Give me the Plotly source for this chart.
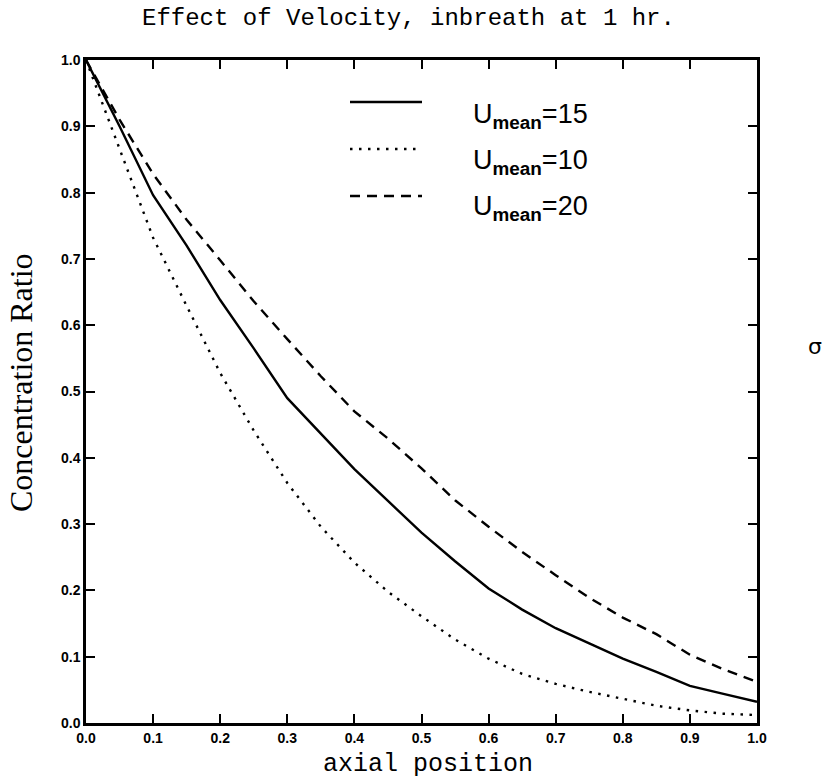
import plotly.graph_objects as go

# ---- data ----
x_pos = [0.0, 0.05, 0.1, 0.15, 0.2, 0.25, 0.3, 0.35, 0.4, 0.45, 0.5,
         0.55, 0.6, 0.65, 0.7, 0.75, 0.8, 0.85, 0.9, 0.95, 1.0]
u15 = [1.0, 0.90, 0.796, 0.72, 0.638, 0.565, 0.49, 0.436, 0.383, 0.335, 0.287,
       0.244, 0.203, 0.171, 0.143, 0.120, 0.097, 0.077, 0.056, 0.044, 0.032]
u10 = [1.0, 0.866, 0.732, 0.629, 0.528, 0.441, 0.362, 0.296, 0.242, 0.198, 0.161,
       0.126, 0.097, 0.074, 0.059, 0.047, 0.036, 0.026, 0.019, 0.014, 0.012]
u20 = [1.0, 0.91, 0.828, 0.759, 0.698, 0.636, 0.579, 0.523, 0.470, 0.429, 0.384,
       0.336, 0.296, 0.258, 0.223, 0.189, 0.159, 0.134, 0.103, 0.081, 0.062]

series_names = ["U<sub><b>mean</b></sub>=15", "U<sub><b>mean</b></sub>=10", "U<sub><b>mean</b></sub>=20"]
series_vals = [u15, u10, u20]
series_dash = ["solid", "2.5px,6.5px", "10px,7px"]

tick_vals = [0.0, 0.1, 0.2, 0.3, 0.4, 0.5, 0.6, 0.7, 0.8, 0.9, 1.0]
tick_text = ["0.0", "0.1", "0.2", "0.3", "0.4", "0.5", "0.6", "0.7", "0.8", "0.9", "1.0"]

title_text = "Effect of Velocity, inbreath at 1 hr."
x_title = "axial position"
y_title = "Concentration Ratio"

W, H = 825, 778
L, R, T, B = 86, 68, 60, 55
PW, PH = W - L - R, H - T - B

def px_x(p):
    return (p - L) / PW

def px_y(p):
    return (H - B - p) / PH

fig = go.Figure()
for name, vals, dash in zip(series_names, series_vals, series_dash):
    fig.add_trace(go.Scatter(x=x_pos, y=vals, mode="lines", name=name,
                             line=dict(color="black", width=2.4, dash=dash),
                             showlegend=False))

# legend drawn manually
leg_y_line = [102, 149, 196]
leg_y_text = [116, 162, 208]
for name, dash, yl, yt in zip(series_names, series_dash, leg_y_line, leg_y_text):
    fig.add_shape(type="line", xref="paper", yref="paper",
                  x0=px_x(350), x1=px_x(422), y0=px_y(yl), y1=px_y(yl),
                  line=dict(color="black", width=2.4, dash=dash))
    fig.add_annotation(xref="paper", yref="paper", x=px_x(471), y=px_y(yt),
                       xanchor="left", yanchor="middle", showarrow=False,
                       text=name, font=dict(family="Liberation Sans", size=27, color="black"))

axis_common = dict(range=[0, 1], tickvals=tick_vals, ticktext=tick_text,
                   ticks="inside", ticklen=9, tickwidth=1.5, tickcolor="black",
                   showline=True, linecolor="black", linewidth=2.5, mirror="allticks",
                   showgrid=False, zeroline=False,
                   tickfont=dict(family="Liberation Sans", size=14, color="black", weight="bold"))

fig.update_xaxes(**axis_common)
fig.update_yaxes(**axis_common)

fig.add_annotation(xref="paper", yref="paper", x=px_x(408), y=px_y(18),
                   xanchor="center", yanchor="middle", showarrow=False,
                   text=title_text, font=dict(family="Liberation Mono", size=24, color="black"))
fig.add_annotation(xref="paper", yref="paper", x=px_x(428), y=px_y(764),
                   xanchor="center", yanchor="middle", showarrow=False,
                   text=x_title, font=dict(family="Liberation Mono", size=25, color="black"))
fig.add_annotation(xref="paper", yref="paper", x=px_x(21), y=px_y(383),
                   xanchor="center", yanchor="middle", showarrow=False, textangle=-90,
                   text=y_title, font=dict(family="Liberation Serif", size=32, color="black"))
fig.add_annotation(xref="paper", yref="paper", x=px_x(815), y=px_y(346),
                   xanchor="center", yanchor="middle", showarrow=False,
                   text="σ", font=dict(family="DejaVu Sans", size=22, color="black"))

fig.update_layout(width=W, height=H, margin=dict(l=L, r=R, t=T, b=B),
                  paper_bgcolor="white", plot_bgcolor="white", showlegend=False)

fig.write_html("out.html")
